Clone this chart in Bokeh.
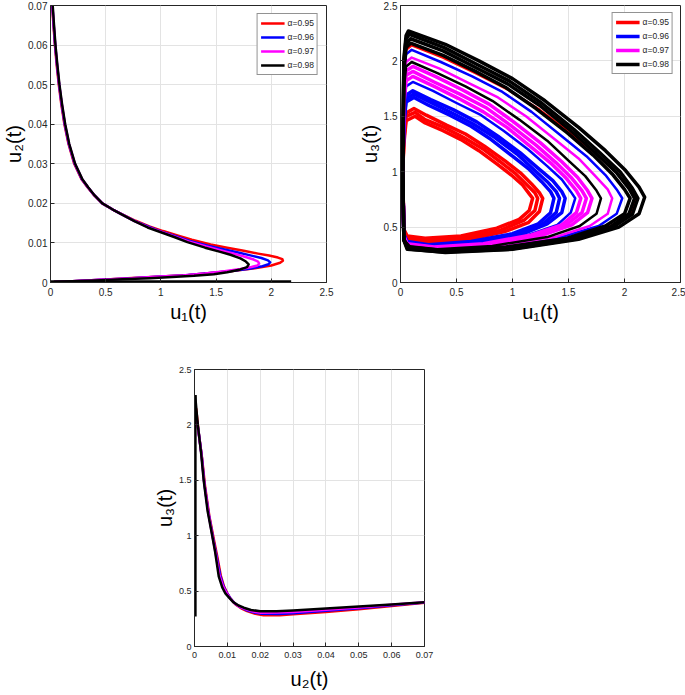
from bokeh.plotting import figure
from bokeh.models import Range1d, FixedTicker, Spacer
from bokeh.layouts import column, row
from bokeh.embed import file_html
from bokeh.resources import INLINE

# ---------------- data ----------------
ALPHAS = ["α=0.95", "α=0.96", "α=0.97", "α=0.98"]
COLORS = ["#ff0000", "#0000ff", "#ff00ff", "#000000"]

U1_TICKS = [0, 0.5, 1, 1.5, 2, 2.5]
U1_LABELS = ["0", "0.5", "1", "1.5", "2", "2.5"]
U2_TICKS = [0, 0.01, 0.02, 0.03, 0.04, 0.05, 0.06, 0.07]
U2_LABELS = ["0", "0.01", "0.02", "0.03", "0.04", "0.05", "0.06", "0.07"]
U3_TICKS = [0, 0.5, 1, 1.5, 2, 2.5]
U3_LABELS = ["0", "0.5", "1", "1.5", "2", "2.5"]

# panel 1 : u1 vs u2
P1_RED_U1 = [0.015, 0.027, 0.040, 0.056, 0.075, 0.098, 0.126, 0.163, 0.215, 0.283, 0.337, 0.396, 0.468,
             0.560, 0.645, 0.770, 0.895, 1.020, 1.150, 1.280, 1.450, 1.600, 1.750, 1.880, 1.980, 2.060, 2.100,
             2.105, 2.080, 2.000, 1.850, 1.650, 1.450, 1.250, 1.000, 0.700, 0.460, 0.200, 0.030]
P1_RED_U2 = [0.0700, 0.0650, 0.0600, 0.0550, 0.0500, 0.0450, 0.0400, 0.0350, 0.0300, 0.0260, 0.0240, 0.0220, 0.0200,
             0.0185, 0.0173, 0.0156, 0.0142, 0.0130, 0.0119, 0.0108, 0.0096, 0.0088, 0.0080, 0.0073, 0.0068, 0.0063, 0.0059,
             0.0055, 0.0050, 0.0043, 0.0036, 0.0029, 0.0024, 0.0019, 0.0015, 0.0011, 0.0007, 0.0003, 0.0001]
P1_BLUE_U1 = [0.017, 0.029, 0.042, 0.059, 0.078, 0.101, 0.129, 0.166, 0.219, 0.286, 0.340, 0.398, 0.469,
              0.560, 0.643, 0.765, 0.888, 1.010, 1.135, 1.260, 1.425, 1.565, 1.700, 1.820, 1.910, 1.970, 1.990,
              1.975, 1.920, 1.800, 1.600, 1.400, 1.200, 1.000, 0.700, 0.460, 0.200, 0.030]
P1_BLUE_U2 = [0.0700, 0.0650, 0.0600, 0.0550, 0.0500, 0.0450, 0.0400, 0.0350, 0.0300, 0.0260, 0.0240, 0.0220, 0.0200,
              0.0185, 0.0173, 0.0155, 0.0141, 0.0128, 0.0117, 0.0105, 0.0093, 0.0084, 0.0076, 0.0068, 0.0062, 0.0056, 0.0051,
              0.0046, 0.0041, 0.0035, 0.0028, 0.0023, 0.0018, 0.0015, 0.0010, 0.0007, 0.0003, 0.0001]
P1_MAG_U1 = [0.018, 0.030, 0.043, 0.060, 0.079, 0.103, 0.131, 0.168, 0.221, 0.288, 0.341, 0.399, 0.470,
             0.560, 0.641, 0.762, 0.884, 1.005, 1.128, 1.250, 1.410, 1.545, 1.660, 1.760, 1.840, 1.880, 1.890,
             1.875, 1.820, 1.720, 1.560, 1.400, 1.200, 1.000, 0.700, 0.460, 0.200, 0.030]
P1_MAG_U2 = [0.0700, 0.0650, 0.0600, 0.0550, 0.0500, 0.0450, 0.0400, 0.0350, 0.0300, 0.0260, 0.0240, 0.0220, 0.0200,
             0.0185, 0.0173, 0.0155, 0.0140, 0.0128, 0.0116, 0.0104, 0.0091, 0.0081, 0.0073, 0.0065, 0.0058, 0.0053, 0.0048,
             0.0043, 0.0039, 0.0034, 0.0028, 0.0023, 0.0018, 0.0015, 0.0010, 0.0007, 0.0003, 0.0001]
P1_BLACK_U1 = [0.020, 0.032, 0.045, 0.062, 0.081, 0.105, 0.133, 0.170, 0.223, 0.290, 0.343, 0.400, 0.470,
               0.560, 0.640, 0.760, 0.880, 1.000, 1.120, 1.240, 1.400, 1.530, 1.630, 1.720, 1.770, 1.795,
               1.780, 1.720, 1.600, 1.480, 1.300, 1.100, 0.900, 0.700, 0.460, 0.200, 0.030]
P1_BLACK_U2 = [0.0700, 0.0650, 0.0600, 0.0550, 0.0500, 0.0450, 0.0400, 0.0350, 0.0300, 0.0260, 0.0240, 0.0220, 0.0200,
               0.0185, 0.0173, 0.0155, 0.0139, 0.0127, 0.0115, 0.0102, 0.0088, 0.0078, 0.0070, 0.0061, 0.0053, 0.0046,
               0.0039, 0.0033, 0.0026, 0.0021, 0.0017, 0.0014, 0.0011, 0.0009, 0.0006, 0.0003, 0.0001]
P1_BASE_U1 = [0.0, 2.18]
P1_BASE_U2 = [0.0002, 0.0002]

# panel 2 : u1 vs u3 (closed loops) -- first entries: dense band, last entries: single orbits
P2_RED_U1 = [
    [0.02, 0.03, 0.05, 0.13, 0.22, 0.38, 0.54, 0.70, 0.86, 0.99, 1.09, 1.15, 1.18, 1.15, 1.06, 0.86, 0.54, 0.22, 0.06, 0.03, 0.02],
    [0.02, 0.03, 0.05, 0.13, 0.22, 0.39, 0.56, 0.73, 0.89, 1.03, 1.13, 1.20, 1.225, 1.20, 1.10, 0.89, 0.56, 0.22, 0.06, 0.03, 0.02],
    [0.02, 0.03, 0.05, 0.12, 0.23, 0.41, 0.58, 0.75, 0.93, 1.07, 1.17, 1.24, 1.27, 1.24, 1.14, 0.93, 0.58, 0.23, 0.06, 0.03, 0.02],
    [0.02, 0.03, 0.05, 0.10, 0.38, 0.67, 0.96, 1.24, 1.53, 1.76, 1.94, 2.05, 2.10, 2.05, 1.88, 1.53, 0.96, 0.38, 0.06, 0.03, 0.02],
]
P2_RED_U3 = [
    [1.00, 1.25, 1.46, 1.50, 1.44, 1.37, 1.29, 1.19, 1.07, 0.97, 0.88, 0.80, 0.76, 0.65, 0.57, 0.49, 0.42, 0.40, 0.42, 0.48, 1.00],
    [1.00, 1.29, 1.50, 1.535, 1.47, 1.40, 1.31, 1.21, 1.09, 0.98, 0.88, 0.81, 0.76, 0.65, 0.56, 0.47, 0.40, 0.38, 0.40, 0.46, 1.00],
    [1.00, 1.32, 1.53, 1.57, 1.51, 1.42, 1.34, 1.23, 1.10, 0.99, 0.89, 0.81, 0.76, 0.64, 0.54, 0.46, 0.38, 0.36, 0.38, 0.45, 1.00],
    [1.00, 1.89, 2.10, 2.14, 2.03, 1.89, 1.74, 1.56, 1.34, 1.15, 0.98, 0.84, 0.76, 0.62, 0.51, 0.41, 0.33, 0.30, 0.33, 0.40, 1.00],
]
P2_BLUE_U1 = [
    [0.02, 0.03, 0.05, 0.12, 0.25, 0.44, 0.63, 0.81, 1.00, 1.15, 1.26, 1.34, 1.37, 1.34, 1.23, 1.00, 0.63, 0.25, 0.06, 0.03, 0.02],
    [0.02, 0.03, 0.05, 0.12, 0.26, 0.46, 0.65, 0.84, 1.04, 1.19, 1.31, 1.39, 1.42, 1.39, 1.27, 1.04, 0.65, 0.26, 0.06, 0.03, 0.02],
    [0.02, 0.03, 0.05, 0.11, 0.27, 0.47, 0.68, 0.87, 1.07, 1.23, 1.36, 1.44, 1.47, 1.44, 1.31, 1.07, 0.68, 0.27, 0.06, 0.03, 0.02],
    [0.02, 0.03, 0.05, 0.11, 0.29, 0.50, 0.72, 0.92, 1.14, 1.31, 1.44, 1.52, 1.56, 1.52, 1.40, 1.14, 0.72, 0.29, 0.06, 0.03, 0.02],
    [0.02, 0.03, 0.05, 0.10, 0.36, 0.64, 0.91, 1.17, 1.44, 1.66, 1.83, 1.93, 1.98, 1.93, 1.77, 1.44, 0.91, 0.36, 0.06, 0.03, 0.02],
]
P2_BLUE_U3 = [
    [1.00, 1.42, 1.63, 1.67, 1.60, 1.51, 1.41, 1.29, 1.14, 1.02, 0.91, 0.82, 0.76, 0.63, 0.53, 0.44, 0.37, 0.34, 0.37, 0.43, 1.00],
    [1.00, 1.45, 1.66, 1.70, 1.63, 1.53, 1.43, 1.31, 1.16, 1.02, 0.91, 0.82, 0.76, 0.63, 0.53, 0.44, 0.36, 0.335, 0.36, 0.43, 1.00],
    [1.00, 1.48, 1.69, 1.73, 1.65, 1.56, 1.45, 1.32, 1.17, 1.03, 0.92, 0.82, 0.76, 0.63, 0.53, 0.43, 0.36, 0.33, 0.36, 0.42, 1.00],
    [1.00, 1.56, 1.77, 1.81, 1.73, 1.62, 1.51, 1.37, 1.20, 1.05, 0.93, 0.82, 0.76, 0.63, 0.52, 0.43, 0.35, 0.32, 0.35, 0.42, 1.00],
    [1.00, 1.85, 2.06, 2.10, 1.99, 1.86, 1.72, 1.54, 1.32, 1.14, 0.97, 0.84, 0.76, 0.62, 0.51, 0.41, 0.33, 0.30, 0.33, 0.40, 1.00],
]
P2_MAG_U1 = [
    [0.02, 0.03, 0.05, 0.11, 0.30, 0.52, 0.74, 0.95, 1.17, 1.35, 1.48, 1.57, 1.61, 1.57, 1.44, 1.17, 0.74, 0.30, 0.06, 0.03, 0.02],
    [0.02, 0.03, 0.05, 0.11, 0.30, 0.53, 0.76, 0.98, 1.21, 1.39, 1.53, 1.62, 1.66, 1.62, 1.48, 1.21, 0.76, 0.30, 0.06, 0.03, 0.02],
    [0.02, 0.03, 0.05, 0.11, 0.31, 0.55, 0.79, 1.01, 1.25, 1.44, 1.58, 1.67, 1.71, 1.67, 1.53, 1.25, 0.79, 0.31, 0.06, 0.03, 0.02],
    [0.02, 0.03, 0.05, 0.10, 0.35, 0.61, 0.87, 1.12, 1.38, 1.59, 1.74, 1.85, 1.89, 1.85, 1.69, 1.38, 0.87, 0.35, 0.06, 0.03, 0.02],
]
P2_MAG_U3 = [
    [1.00, 1.61, 1.82, 1.86, 1.77, 1.66, 1.54, 1.40, 1.22, 1.07, 0.94, 0.83, 0.76, 0.63, 0.52, 0.43, 0.35, 0.32, 0.35, 0.42, 1.00],
    [1.00, 1.66, 1.87, 1.905, 1.81, 1.70, 1.58, 1.42, 1.24, 1.08, 0.94, 0.83, 0.76, 0.63, 0.52, 0.42, 0.34, 0.315, 0.34, 0.41, 1.00],
    [1.00, 1.70, 1.91, 1.95, 1.86, 1.74, 1.61, 1.45, 1.26, 1.09, 0.95, 0.83, 0.76, 0.63, 0.52, 0.42, 0.34, 0.31, 0.34, 0.41, 1.00],
    [1.00, 1.78, 1.99, 2.03, 1.93, 1.80, 1.67, 1.50, 1.29, 1.12, 0.96, 0.84, 0.76, 0.62, 0.51, 0.41, 0.33, 0.30, 0.33, 0.40, 1.00],
]
P2_BLACK_U1 = [
    [0.02, 0.03, 0.05, 0.09, 0.38, 0.66, 0.94, 1.21, 1.49, 1.72, 1.89, 2.00, 2.05, 2.00, 1.83, 1.49, 0.94, 0.38, 0.06, 0.03, 0.02],
    [0.02, 0.03, 0.05, 0.09, 0.38, 0.67, 0.96, 1.24, 1.52, 1.75, 1.93, 2.04, 2.09, 2.04, 1.87, 1.52, 0.96, 0.38, 0.06, 0.03, 0.02],
    [0.02, 0.03, 0.05, 0.08, 0.39, 0.68, 0.97, 1.26, 1.55, 1.78, 1.96, 2.07, 2.12, 2.07, 1.90, 1.55, 0.97, 0.39, 0.06, 0.03, 0.02],
    [0.02, 0.03, 0.05, 0.07, 0.40, 0.70, 1.00, 1.29, 1.59, 1.83, 2.01, 2.13, 2.18, 2.13, 1.95, 1.59, 1.00, 0.40, 0.10, 0.03, 0.02],
    [0.02, 0.03, 0.05, 0.10, 0.33, 0.58, 0.82, 1.06, 1.31, 1.50, 1.65, 1.75, 1.79, 1.75, 1.60, 1.31, 0.82, 0.33, 0.06, 0.03, 0.02],
]
P2_BLACK_U3 = [
    [1.00, 1.91, 2.12, 2.16, 2.05, 1.91, 1.76, 1.57, 1.35, 1.15, 0.98, 0.84, 0.76, 0.62, 0.51, 0.40, 0.32, 0.29, 0.32, 0.39, 1.00],
    [1.00, 1.95, 2.16, 2.20, 2.09, 1.94, 1.79, 1.60, 1.37, 1.16, 0.99, 0.85, 0.76, 0.62, 0.50, 0.40, 0.31, 0.28, 0.31, 0.39, 1.00],
    [1.00, 1.99, 2.20, 2.24, 2.12, 1.97, 1.82, 1.62, 1.38, 1.17, 1.00, 0.85, 0.76, 0.615, 0.50, 0.39, 0.30, 0.275, 0.30, 0.38, 1.00],
    [1.00, 2.02, 2.23, 2.27, 2.15, 2.00, 1.84, 1.64, 1.40, 1.19, 1.01, 0.86, 0.77, 0.62, 0.50, 0.39, 0.30, 0.27, 0.30, 0.38, 1.00],
    [1.00, 1.74, 1.95, 1.99, 1.89, 1.77, 1.64, 1.47, 1.28, 1.10, 0.96, 0.83, 0.76, 0.62, 0.51, 0.41, 0.33, 0.30, 0.33, 0.40, 1.00],
]
P2_BAND_COUNT = [3, 3, 3, 4]

# panel 3 : u2 vs u3
P3_RED_U2 = [0.0005, 0.0012, 0.0023, 0.0032, 0.0045, 0.0060, 0.0070, 0.0080, 0.0090, 0.0100, 0.0110, 0.0125, 0.0142,
             0.0160, 0.0185, 0.0210, 0.0260, 0.0300, 0.0400, 0.0500, 0.0600, 0.0700]
P3_RED_U3 = [2.15, 1.95, 1.70, 1.45, 1.18, 0.95, 0.80, 0.64, 0.54, 0.48, 0.43, 0.38, 0.345,
             0.320, 0.295, 0.283, 0.283, 0.290, 0.312, 0.337, 0.365, 0.395]
P3_BLUE_U2 = [0.0004, 0.0011, 0.0022, 0.0030, 0.0043, 0.0057, 0.0067, 0.0078, 0.0088, 0.0098, 0.0108, 0.0122, 0.0139,
              0.0157, 0.0182, 0.0205, 0.0255, 0.0300, 0.0400, 0.0500, 0.0600, 0.0700]
P3_BLUE_U3 = [2.10, 1.97, 1.72, 1.47, 1.20, 0.97, 0.82, 0.645, 0.545, 0.485, 0.44, 0.39, 0.355,
              0.330, 0.307, 0.295, 0.294, 0.300, 0.322, 0.345, 0.372, 0.398]
P3_MAG_U2 = [0.0003, 0.0010, 0.0021, 0.0029, 0.0042, 0.0055, 0.0065, 0.0076, 0.0087, 0.0096, 0.0106, 0.0120, 0.0136,
             0.0155, 0.0178, 0.0202, 0.0252, 0.0300, 0.0400, 0.0500, 0.0600, 0.0700]
P3_MAG_U3 = [2.03, 1.98, 1.74, 1.49, 1.21, 0.99, 0.83, 0.64, 0.54, 0.49, 0.445, 0.395, 0.36,
             0.337, 0.315, 0.305, 0.306, 0.312, 0.332, 0.352, 0.376, 0.399]
P3_BLACK_U2 = [0.0002, 0.0004, 0.0010, 0.0020, 0.0028, 0.0040, 0.0054, 0.0063, 0.0074, 0.0085, 0.0094, 0.0104, 0.0118,
               0.0134, 0.0150, 0.0172, 0.0200, 0.0250, 0.0300, 0.0400, 0.0500, 0.0600, 0.0700]
P3_BLACK_U3 = [2.27, 2.20, 2.00, 1.75, 1.50, 1.22, 1.00, 0.85, 0.63, 0.53, 0.48, 0.446, 0.40,
               0.37, 0.35, 0.33, 0.318, 0.318, 0.325, 0.343, 0.360, 0.380, 0.400]
P3_VERT_U2 = [0.0002, 0.0002]
P3_VERT_U3 = [0.27, 2.27]

# ---------------- styling helpers ----------------
FONT = "Liberation Sans"
AX = "#262626"


def style(p, xt, xl, yt, yl, xlabel, ylabel, tick_size="10px", xlab_standoff=2):
    p.xaxis.ticker = FixedTicker(ticks=xt)
    p.yaxis.ticker = FixedTicker(ticks=yt)
    p.xaxis.major_label_overrides = {k: v for k, v in zip(xt, xl)}
    p.yaxis.major_label_overrides = {k: v for k, v in zip(yt, yl)}
    p.xaxis.axis_label = xlabel
    p.yaxis.axis_label = ylabel
    for ax in (p.xaxis[0], p.yaxis[0]):
        ax.major_tick_in = 4
        ax.major_tick_out = 0
        ax.minor_tick_line_color = None
        ax.axis_line_color = AX
        ax.major_tick_line_color = AX
        ax.major_label_text_font = FONT
        ax.major_label_text_font_size = tick_size
        ax.major_label_text_color = AX
        ax.axis_label_text_font = FONT
        ax.axis_label_text_font_size = "20px"
        ax.axis_label_text_font_style = "normal"
        ax.axis_label_text_color = "#000000"
    p.xaxis.major_label_standoff = 5
    p.xaxis.axis_label_standoff = xlab_standoff
    p.yaxis.major_label_standoff = 3
    p.yaxis.axis_label_standoff = 0
    p.grid.grid_line_color = "#e3e3e3"
    p.grid.grid_line_width = 1
    p.outline_line_color = AX
    p.outline_line_width = 1
    p.outline_line_alpha = 1
    p.background_fill_color = "white"
    p.border_fill_color = "white"


def style_legend(p, margin):
    lg = p.legend[0]
    lg.location = "top_right"
    lg.margin = margin
    lg.padding = 3
    lg.spacing = 2
    lg.label_height = 12
    lg.label_width = 10
    lg.glyph_height = 12
    lg.glyph_width = 24
    lg.label_standoff = 3
    lg.label_text_font = FONT
    lg.label_text_font_size = "8.5px"
    lg.label_text_color = AX
    lg.border_line_color = AX
    lg.border_line_width = 1
    lg.background_fill_alpha = 1


# ---------------- panel 1 ----------------
p1 = figure(width=335, height=360, title=None, output_backend="svg", toolbar_location=None,
            x_range=Range1d(0, 2.5), y_range=Range1d(0, 0.07),
            min_border_left=49, min_border_right=9, min_border_top=5, min_border_bottom=78)
p1_series = [(P1_RED_U1, P1_RED_U2), (P1_BLUE_U1, P1_BLUE_U2), (P1_MAG_U1, P1_MAG_U2), (P1_BLACK_U1, P1_BLACK_U2)]
for (xs, ys), c, lab in zip(p1_series, COLORS, ALPHAS):
    p1.line(xs, ys, line_color=c, line_width=2.5, line_join="round", legend_label=lab)
p1.line(P1_BASE_U1, P1_BASE_U2, line_color="#000000", line_width=3)
style(p1, U1_TICKS, U1_LABELS, U2_TICKS, U2_LABELS, "u₁(t)", "u₂(t)")
style_legend(p1, 8)

# ---------------- panel 2 ----------------
p2 = figure(width=350, height=360, title=None, output_backend="svg", toolbar_location=None,
            x_range=Range1d(0, 2.5), y_range=Range1d(0, 2.5),
            min_border_left=65, min_border_right=5, min_border_top=5, min_border_bottom=78)
p2_series = [(P2_RED_U1, P2_RED_U3), (P2_BLUE_U1, P2_BLUE_U3), (P2_MAG_U1, P2_MAG_U3), (P2_BLACK_U1, P2_BLACK_U3)]
for (xs, ys), n, c, lab in zip(p2_series, P2_BAND_COUNT, COLORS, ALPHAS):
    p2.multi_line(xs=xs[:n], ys=ys[:n], line_color=c, line_width=3.5, line_join="round", legend_label=lab)
    p2.multi_line(xs=xs[n:], ys=ys[n:], line_color=c, line_width=2.5, line_join="round")
style(p2, U1_TICKS, U1_LABELS, U3_TICKS, U3_LABELS, "u₁(t)", "u₃(t)")
style_legend(p2, 7)

# ---------------- panel 3 ----------------
p3 = figure(width=284, height=334, title=None, output_backend="svg", toolbar_location=None,
            x_range=Range1d(0, 0.07), y_range=Range1d(0, 2.5),
            min_border_left=44, min_border_right=10, min_border_top=9, min_border_bottom=48)
p3_series = [(P3_RED_U2, P3_RED_U3), (P3_BLUE_U2, P3_BLUE_U3), (P3_MAG_U2, P3_MAG_U3), (P3_BLACK_U2, P3_BLACK_U3)]
for (xs, ys), c in zip(p3_series, COLORS):
    p3.line(xs, ys, line_color=c, line_width=2.5, line_join="round")
p3.line(P3_VERT_U2, P3_VERT_U3, line_color="#000000", line_width=3)
style(p3, U2_TICKS, U2_LABELS, U3_TICKS, U3_LABELS, "u₂(t)", "u₃(t)", tick_size="9px", xlab_standoff=7)

layout = column(row(p1, p2), row(Spacer(width=150, height=334), p3))

open("out.html", "w").write(file_html(layout, INLINE))
